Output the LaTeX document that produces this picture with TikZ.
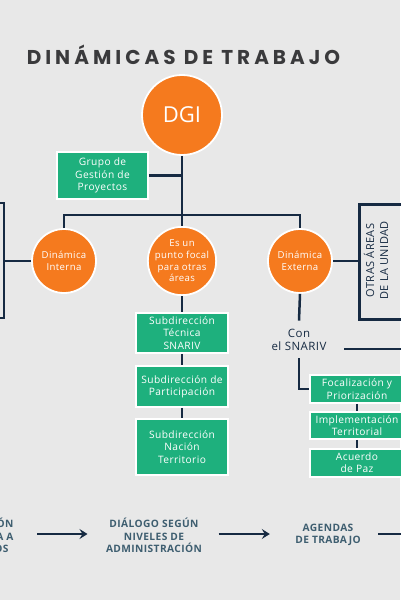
\documentclass[tikz,border=0pt]{standalone}
\usepackage{fontspec}
\setmainfont{Open Sans}
\newfontfamily\titlefont[LetterSpace=20]{Poppins}
\newfontfamily\boxfont[LetterSpace=4]{Open Sans}
\usetikzlibrary{arrows.meta, positioning, calc}
\definecolor{bggray}{RGB}{232,232,232}
\definecolor{titlegray}{RGB}{58,58,60}
\definecolor{dgiorange}{RGB}{245,122,30}
\definecolor{boxgreen}{RGB}{30,176,125}
\definecolor{linenavy}{RGB}{22,42,66}
\definecolor{slate}{RGB}{62,94,112}
\tikzset{
  orgline/.style={draw=linenavy, line width=2.5pt},
  roundnode/.style={circle, fill=dgiorange, draw=white, line width=1.8pt, text=white, align=center, inner sep=0pt, minimum size=64pt, font=\boxfont\fontsize{9.6}{11.7}\selectfont},
  greenbox/.style={rectangle, fill=boxgreen, draw=white, line width=1.5pt, text=white, align=center, inner sep=2pt, font=\boxfont\fontsize{10.2}{12.3}\selectfont},
  steplabel/.style={text=slate, align=center, font=\boxfont\bfseries\fontsize{10.2}{12.5}\selectfont},
  flowarrow/.style={draw=linenavy, line width=2.5pt, -{Stealth[length=8pt,width=10pt,inset=3pt]}}
}
\begin{document}
\begin{tikzpicture}[x=1pt, y=-1pt]
  \useasboundingbox (0,0) rectangle (400,600);
  \fill[bggray] (0,0) rectangle (400,600);

  % Title
  \node[font=\titlefont\bfseries\fontsize{20}{24}\selectfont, text=titlegray] (title) at (183.5,55) {DINÁMICAS DE TRABAJO};

  % Top of the chart
  \node[roundnode, minimum size=80pt, font=\fontsize{22}{24}\selectfont] (dgi) at (182,115) {DGI};
  \node[greenbox, minimum width=91pt, minimum height=47pt] (grupo) at (102.5,175.5) {Grupo de\\Gestión de\\Proyectos};

  % Three dynamics
  \node[roundnode] (interna) at (64,261) {Dinámica\\Interna};
  \node[roundnode] (focal) at (182,261) {Es un\\punto focal\\para otras\\áreas};
  \node[roundnode] (externa) at (300,261) {Dinámica\\Externa};

  % Middle column
  \node[greenbox, minimum width=92pt, minimum height=40pt] (tecnica) at (182,333) {Subdirección\\Técnica\\SNARIV};
  \node[greenbox, minimum width=92pt, minimum height=41pt] (particip) at (182,386.5) {Subdirección de\\Participación};
  \node[greenbox, minimum width=92pt, minimum height=56pt] (nacion) at (182,447) {Subdirección\\Nación\\Territorio};

  % Right side
  \node[draw=linenavy, line width=2.5pt, minimum width=60pt, minimum height=115pt, anchor=north west, inner sep=0pt] (otras) at (358,203) {};
  \node[rotate=90, text=linenavy, align=center, font=\boxfont\fontsize{11}{14}\selectfont] (otraslbl) at (376,260.5) {OTRAS ÁREAS\\DE LA UNIDAD};
  \node[text=linenavy, align=center, inner ysep=8pt, font=\boxfont\fontsize{11.5}{13}\selectfont] (snariv) at (299,339.5) {Con\\el SNARIV};
  \node[greenbox, minimum width=94pt, minimum height=28pt] (focaliz) at (357,389) {Focalización y\\Priorización};
  \node[greenbox, minimum width=94pt, minimum height=27pt] (implem) at (357,425.5) {Implementación\\Territorial};
  \node[greenbox, minimum width=94pt, minimum height=28pt] (acuerdo) at (357,463) {Acuerdo\\de Paz};

  % Connectors
  \coordinate (bar) at (182,215);
  \draw[orgline] (dgi.south) -- (bar) -- (focal.north);
  \draw[orgline] (grupo.east) -- (grupo.east -| dgi.south);
  \draw[orgline] (interna.north) |- (bar) -| (externa.north);
  \coordinate (lbtop) at (-3,203);
  \coordinate (lbmid) at (4,261);
  \coordinate (lbbot) at (-3,318);
  \draw[orgline] (lbtop) -- ++(7,0) |- (lbbot);
  \draw[orgline] (interna.west) -- (lbmid);
  \draw[orgline] (externa.east) -- (externa.east -| otras.west);
  \draw[orgline] (focal.south) -- (tecnica.north);
  \draw[orgline] (tecnica.south) -- (particip.north);
  \draw[orgline] (particip.south) -- (nacion.north);
  \draw[orgline] (externa.south) -- (snariv.north);
  \coordinate (extA) at (344,349);
  \coordinate (extB) at (404,349);
  \draw[orgline] (extA) -- (extB);
  \draw[orgline] (snariv.south) |- (focaliz.west);
  \draw[orgline, line width=2pt] (focaliz.south) -- (implem.north);
  \draw[orgline, line width=2pt] (implem.south) -- (acuerdo.north);

  % Bottom flow
  \node[steplabel, anchor=east, align=right] (concert) at (17,535.5) {ÓN\\A A\hspace*{5pt}\\OS\hspace*{5pt}};
  \node[steplabel] (dialogo) at (154,535.5) {DIÁLOGO SEGÚN\\NIVELES DE\\ADMINISTRACIÓN};
  \node[steplabel] (agendas) at (328,535) {AGENDAS\\DE TRABAJO};
  \coordinate (flowend) at (406,534);
  \draw[flowarrow, shorten <=20pt, shorten >=15pt] (concert.east |- 0,534) -- (dialogo.west |- 0,534);
  \draw[flowarrow, shorten <=13pt, shorten >=22pt] (dialogo.east |- 0,534) -- (agendas.west |- 0,534);
  \draw[orgline, shorten <=14pt] (agendas.east |- 0,534) -- (flowend);
\end{tikzpicture}
\end{document}
